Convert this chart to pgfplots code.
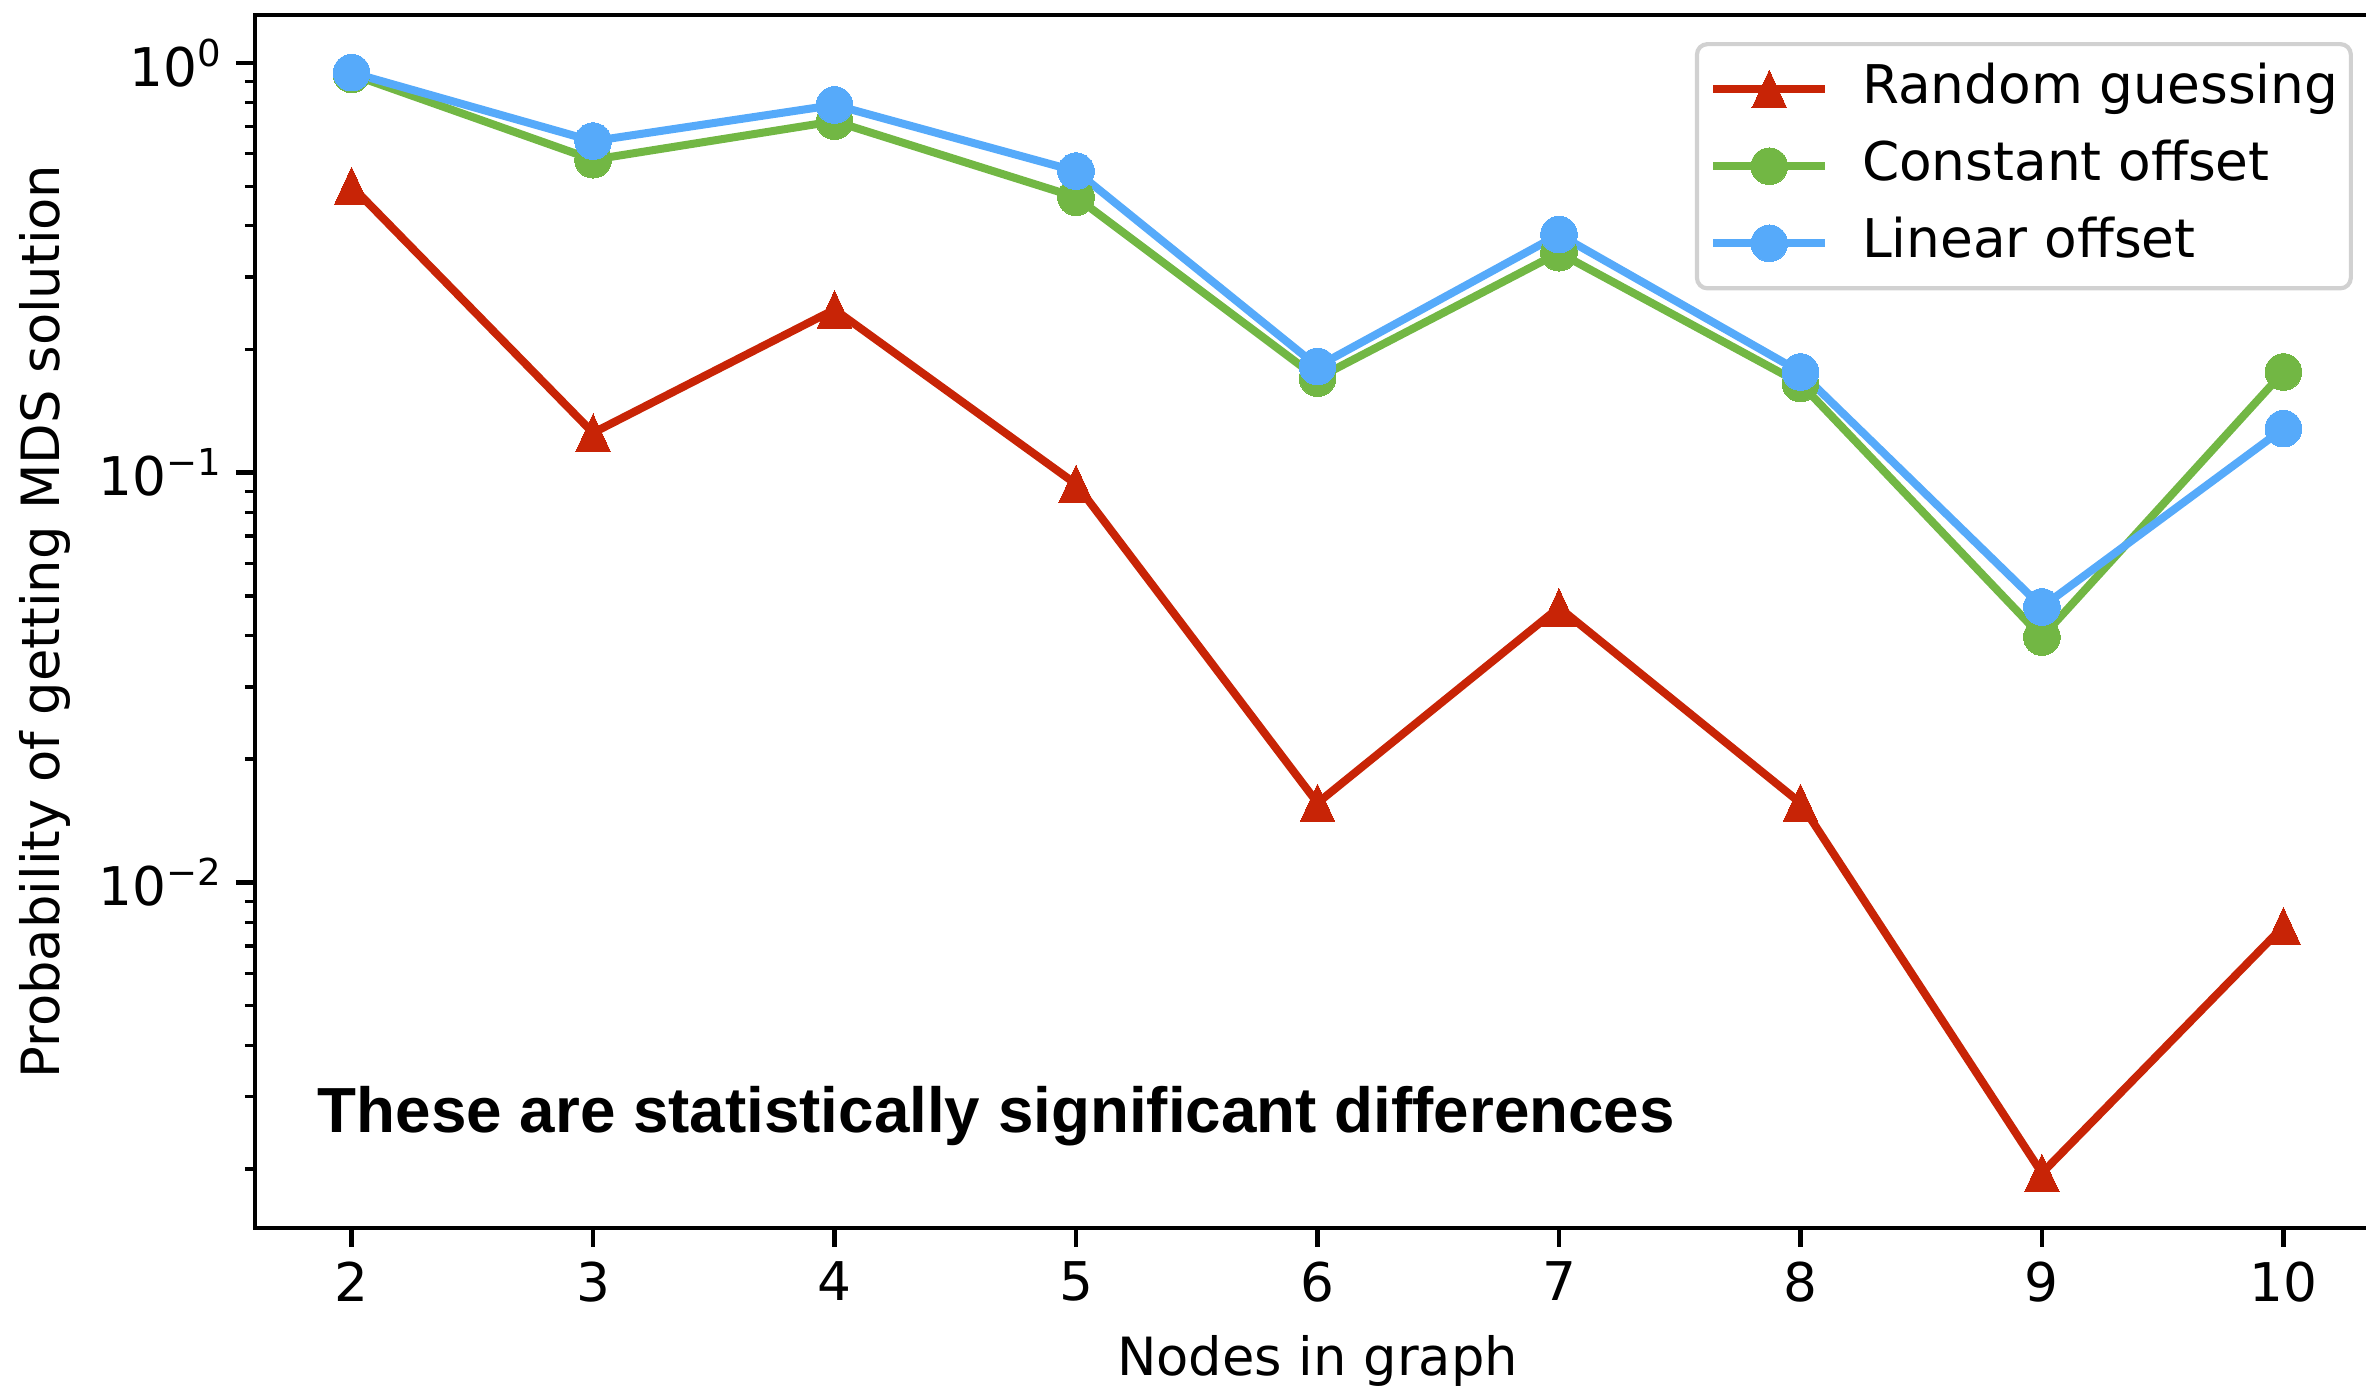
\documentclass[border=0pt]{standalone}
\usepackage{fontspec}
\setmainfont{DejaVu Sans}
\newfontfamily\annfont{Liberation Sans}
\usepackage{pgfplots}
\pgfplotsset{compat=1.18}
\definecolor{cred}{RGB}{200,36,6}
\definecolor{cgreen}{RGB}{114,183,68}
\definecolor{cblue}{RGB}{86,170,250}
\newcommand{\sci}[1]{10\raisebox{4.8pt}{\fontsize{8.9}{10}\selectfont #1}}
\begin{document}
\begin{tikzpicture}
\begin{axis}[
  at={(61.2pt,38.88pt)}, anchor=south west,
  scale only axis, width=510pt, height=291.12pt,
  ymode=log, xmin=1.6, xmax=10.4, ymin=0.001435, ymax=1.308,
  xtick={2,3,4,5,6,7,8,9,10},
  ytick={0.01,0.1,1},
  yticklabels={\sci{−2},\sci{−1},\sci{0}},
  minor ytick={0.002,0.003,0.004,0.005,0.006,0.007,0.008,0.009,0.02,0.03,0.04,0.05,0.06,0.07,0.08,0.09,0.2,0.3,0.4,0.5,0.6,0.7,0.8,0.9},
  xtick pos=bottom, ytick pos=left,
  tick align=outside,
  major tick length=4.56pt, minor tick length=2.4pt,
  every tick/.style={black, line width=1.04pt},
  minor tick style={line width=0.78pt},
  axis line style={line width=1.04pt},
  tick label style={font=\fontsize{12.8}{15}\selectfont},
  /pgf/number format/assume math mode=true,
  label style={font=\fontsize{12.65}{15}\selectfont},
  xlabel={Nodes in graph},
  ylabel={Probability of getting MDS solution},
  xlabel style={at={(axis description cs:0.5,-0.1212)}, anchor=base},
  ylabel style={at={(axis description cs:-0.0918,0.5)}, anchor=base},
  legend cell align=left,
  legend image code/.code={\draw[mark repeat=2,mark phase=2,#1] plot coordinates {(0pt,0pt) (13.4pt,0pt) (26.8pt,0pt)};},
  legend style={at={(axis description cs:1,1)}, anchor=north east, xshift=-6.5pt, yshift=-6.5pt,
    draw=black!18, line width=1pt, rounded corners=2.5pt, fill=white,
    font=\fontsize{12.8}{15}\selectfont,
    inner xsep=3pt, inner ysep=4.3pt, row sep=5.5pt, column sep=7.9pt,
    nodes={inner sep=0pt, text height=10pt, text depth=3pt}},
]
\addplot[cred, line width=1.92pt, mark=triangle*, mark size=4.8pt, mark options={solid, line width=0pt, fill=cred, yshift=-1.46pt, yscale=1.25}] coordinates {
(2,0.5) (3,0.125) (4,0.25) (5,0.09375) (6,0.015625) (7,0.046875) (8,0.015625) (9,0.001953) (10,0.0078125)};
\addlegendentry{Random guessing\hspace{1.8pt}}
\addplot[cgreen, line width=1.92pt, mark=*, mark size=4.4pt, mark options={solid, line width=0pt, fill=cgreen}] coordinates {
(2,0.937) (3,0.58) (4,0.72) (5,0.47) (6,0.17) (7,0.344) (8,0.165) (9,0.0397) (10,0.176)};
\addlegendentry{Constant offset}
\addplot[cblue, line width=1.92pt, mark=*, mark size=4.4pt, mark options={solid, line width=0pt, fill=cblue}] coordinates {
(2,0.946) (3,0.644) (4,0.789) (5,0.544) (6,0.1816) (7,0.381) (8,0.176) (9,0.047) (10,0.128)};
\addlegendentry{Linear offset}
\node[anchor=base west, inner sep=0pt, font=\annfont\bfseries\fontsize{15.3}{17}\selectfont] at (axis description cs:0.0292,0.0791) {These are statistically significant differences};
\end{axis}
\pgfresetboundingbox
\useasboundingbox (0,0) rectangle (567.84pt,333.6pt);
\end{tikzpicture}
\end{document}
